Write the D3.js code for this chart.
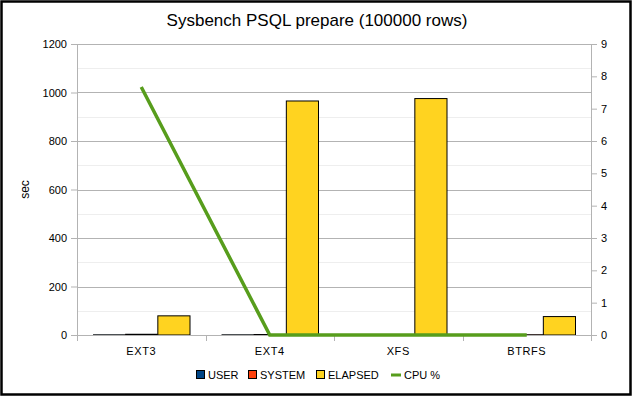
<!DOCTYPE html>
<html>
<head>
<meta charset="utf-8">
<script src="https://cdn.jsdelivr.net/npm/d3@7"></script>
<style>
  body { margin: 0; background: #fff; }
  svg { display: block; font-family: "Liberation Sans", Arial, sans-serif; }
</style>
</head>
<body>
<div id="chart"></div>
<script>
// data
const categories = ["EXT3", "EXT4", "XFS", "BTRFS"];
const seriesNames = ["USER", "SYSTEM", "ELAPSED"];
const userVals = [0.6, 0.6, 0.3, 0.4];
const systemVals = [3, 2, 0.5, 1];
const elapsedVals = [79, 965, 975, 76];
const cpuVals = [7.67, 0, 0, 0];
const leftTicks = [0, 200, 400, 600, 800, 1000, 1200];
const rightTicks = [0, 1, 2, 3, 4, 5, 6, 7, 8, 9];

const colors = {USER: "#004586", SYSTEM: "#ff420e", ELAPSED: "#ffd320", CPU: "#579d1c"};

let width = 633,
    height = 397,
    margin = {top: 44, left: 77, right: 42, bottom: 62};

let svg = d3.select("#chart")
  .append("svg")
    .attr("width", width)
    .attr("height", height);

// outer frame
svg.append("rect")
  .attr("x", 1.5).attr("y", 1.5)
  .attr("width", width - 4).attr("height", height - 4)
  .attr("fill", "#fff")
  .attr("stroke", "#000")
  .attr("stroke-width", 2.5);

svg.append("text")
  .attr("x", 317).attr("y", 26)
  .attr("text-anchor", "middle")
  .attr("font-size", 17)
  .text("Sysbench PSQL prepare (100000 rows)");

let innerW = width - margin.left - margin.right,
    innerH = height - margin.top - margin.bottom;

let g = svg.append("g")
  .attr("transform", "translate(" + margin.left + "," + margin.top + ")");

let xScale = d3.scaleBand().domain(categories).range([0, innerW]);
let xInner = d3.scaleBand().domain(seriesNames)
  .range([16, xScale.bandwidth() - 16]);
let yScale = d3.scaleLinear().domain([0, 1200]).range([innerH, 0]);
let y2Scale = d3.scaleLinear().domain([0, 9]).range([innerH, 0]);

// minor + major gridlines
g.append("g")
  .selectAll("line")
  .data(d3.range(100, 1200, 200))
  .enter().append("line")
    .attr("x1", 0).attr("x2", innerW)
    .attr("y1", d => Math.round(yScale(d)) + 0.5)
    .attr("y2", d => Math.round(yScale(d)) + 0.5)
    .attr("stroke", "#eeeeee");

g.append("g")
  .selectAll("line")
  .data(leftTicks.slice(1))
  .enter().append("line")
    .attr("x1", 0).attr("x2", innerW)
    .attr("y1", d => Math.round(yScale(d)) + 0.5)
    .attr("y2", d => Math.round(yScale(d)) + 0.5)
    .attr("stroke", "#b3b3b3");

// bars
let rows = categories.map((c, i) => ({
  cat: c,
  vals: [userVals[i], systemVals[i], elapsedVals[i]]
}));

let groups = g.append("g")
  .selectAll("g")
  .data(rows)
  .enter().append("g")
    .attr("transform", d => "translate(" + xScale(d.cat) + ",0)");

groups.selectAll("rect")
  .data(d => d.vals.map((v, j) => ({name: seriesNames[j], v: v})))
  .enter().append("rect")
    .attr("x", d => xInner(d.name) + 0.5)
    .attr("width", xInner.bandwidth())
    .attr("y", d => yScale(d.v))
    .attr("height", d => innerH - yScale(d.v))
    .attr("fill", d => colors[d.name])
    .attr("stroke", "#000")
    .attr("stroke-width", 1);

// axes
let yAxis = g.append("g")
  .call(d3.axisLeft(yScale).tickValues(leftTicks).tickFormat(d3.format("d"))
    .tickSize(6).tickPadding(4));
let y2Axis = g.append("g")
  .attr("transform", "translate(" + innerW + ",0)")
  .call(d3.axisRight(y2Scale).tickValues(rightTicks).tickFormat(d3.format("d"))
    .tickSize(6).tickPadding(4));
let xAxis = g.append("g")
  .attr("transform", "translate(0," + innerH + ")")
  .call(d3.axisBottom(xScale).tickSize(0).tickPadding(12));

[yAxis, y2Axis, xAxis].forEach(a => {
  a.selectAll(".domain").attr("stroke", "#b3b3b3");
  a.selectAll(".tick line").attr("stroke", "#b3b3b3");
  a.selectAll("text")
    .attr("font-family", "Liberation Sans, Arial, sans-serif")
    .attr("font-size", 11)
    .attr("fill", "#000");
});
xAxis.selectAll("text").attr("letter-spacing", 0.6);

// category boundary ticks
g.append("g")
  .selectAll("line")
  .data(categories.concat(["end"]))
  .enter().append("line")
    .attr("x1", (d, i) => Math.round(i * xScale.step()) + 0.5)
    .attr("x2", (d, i) => Math.round(i * xScale.step()) + 0.5)
    .attr("y1", innerH).attr("y2", innerH + 6)
    .attr("stroke", "#b3b3b3");

// cpu line
let line = d3.line()
  .x((d, i) => xScale(categories[i]) + xScale.bandwidth() / 2)
  .y(d => y2Scale(d));

g.append("path")
  .datum(cpuVals)
  .attr("d", line)
  .attr("fill", "none")
  .attr("stroke", colors.CPU)
  .attr("stroke-width", 3.5);

// y label
svg.append("text")
  .attr("transform", "translate(29," + (margin.top + innerH / 2) + ") rotate(-90)")
  .attr("text-anchor", "middle")
  .attr("font-size", 12)
  .text("sec");

// legend
let legendItems = [
  {name: "USER", color: colors.USER, kind: "box", x: 196},
  {name: "SYSTEM", color: colors.SYSTEM, kind: "box", x: 248},
  {name: "ELAPSED", color: colors.ELAPSED, kind: "box", x: 316},
  {name: "CPU %", color: colors.CPU, kind: "line", x: 391}
];

let legend = svg.append("g")
  .selectAll("g")
  .data(legendItems)
  .enter().append("g")
    .attr("transform", d => "translate(" + d.x + ",375)");

legend.filter(d => d.kind === "box").append("rect")
  .attr("x", 0.5).attr("y", -4.5)
  .attr("width", 8).attr("height", 8)
  .attr("fill", d => d.color)
  .attr("stroke", "#000");

legend.filter(d => d.kind === "line").append("line")
  .attr("x1", 0).attr("x2", 10)
  .attr("y1", 0).attr("y2", 0)
  .attr("stroke", d => d.color)
  .attr("stroke-width", 3);

legend.append("text")
  .attr("x", d => d.kind === "box" ? 12 : 13)
  .attr("y", 4)
  .attr("font-size", 11)
  .text(d => d.name);
</script>
</body>
</html>
